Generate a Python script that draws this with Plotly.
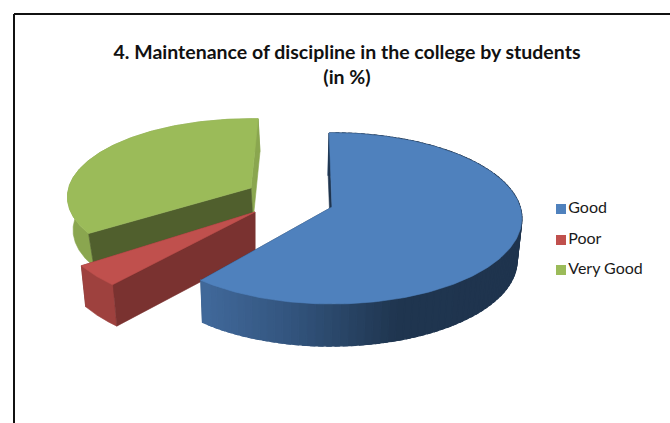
import numpy as np
import plotly.graph_objects as go

# Data
categories = ["Good", "Poor", "Very Good"]
values = [61, 4, 35]
title_text = "4. Maintenance of discipline in the college by students<br>(in %)"

# Styles
top_colors = ["#4f81bd", "#c0504d", "#9bbb59"]
outer_colors = [None, "#9e413e", "#8aa64f"]
cut_colors = ["#1f344e", "#7a3230", "#505f2d"]
back_cut_colors = ["#1f344e", "#7a3230", "#8aa64f"]
apexes = [(332, 207), (255, 212), (251, 188)]
angle_shift = [0, 2, 3.5]
bottom_scale = [0.98, 0.975, 0.98]
bottom_dx = [-1.0, 0, 2]
depths = [42.0, 41.0, 33.0]
radius_x = [0.99, 1.03, 0.96]
radius_y = [1.0, 1.03, 0.92]
perspective = [0.134, 0.134, 0.115]
START = -1.0
A, B = 84.0, 190.0


def project(theta, i, level=0.0):
    t = np.radians(theta)
    u, v = np.sin(t), np.cos(t)
    d = 1 + perspective[i] * v
    scale = bottom_scale[i] if level else 1.0
    x = apexes[i][0] + radius_x[i] * scale * B * u / d + bottom_dx[i] * level
    y = apexes[i][1] - radius_y[i] * A * v / d + depths[i] * level
    return x, y


def poly(fig, xs, ys, color, width=0.6):
    fig.add_trace(go.Scatter(x=list(xs), y=list(ys), mode="lines", fill="toself",
                             fillcolor=color, line=dict(color=color, width=width),
                             hoverinfo="skip", showlegend=False))


def blue_side(x):
    stops_x = [203, 290, 350, 400, 520]
    stops = np.array([[66, 106, 156], [52, 86, 128], [41, 69, 102], [32, 54, 80], [31, 52, 78]])
    return "rgb({},{},{})".format(*[int(np.interp(x, stops_x, stops[:, j])) for j in range(3)])


fig = go.Figure()

spans = np.array(values) / sum(values) * 360
starts = START + np.concatenate([[0], np.cumsum(spans)[:-1]])

for i in [2, 1, 0]:  # painter's order: back to front
    a0 = starts[i] + angle_shift[i]
    a1 = a0 + spans[i]
    ap = apexes[i]
    th = np.linspace(a0, a1, 200)
    tx, ty = project(th, i)
    bx, by = project(th, i, 1.0)
    bax, bay = ap[0] + bottom_dx[i], ap[1] + depths[i]

    def radial(ang, col):
        rx0, ry0 = project(ang, i)
        rx1, ry1 = project(ang, i, 1.0)
        poly(fig, [ap[0], rx0, rx1, bax, ap[0]], [ap[1], ry0, ry1, bay, ap[1]], col)

    radial(a1, back_cut_colors[i])
    if i == 0:
        for k in range(0, len(th) - 3, 2):
            # segments overlap so no seams show between them
            xs = [tx[k], tx[k + 3], bx[k + 3], bx[k], tx[k]]
            ys = [ty[k], ty[k + 3], by[k + 3], by[k], ty[k]]
            poly(fig, xs, ys, blue_side(tx[k]), width=1.4)
        radial(a0, cut_colors[i])
    else:
        poly(fig, np.r_[tx, bx[::-1], tx[0]], np.r_[ty, by[::-1], ty[0]], outer_colors[i])
        radial(a0, cut_colors[i])
    poly(fig, np.r_[ap[0], tx, ap[0]], np.r_[ap[1], ty, ap[1]], top_colors[i])

# Legend drawn as labelled squares
fig.add_trace(go.Scatter(
    x=[561] * 3, y=[209, 240, 270], mode="markers+text",
    text=categories, textposition="middle right",
    marker=dict(symbol="square", size=10, color=top_colors, line=dict(width=0)),
    textfont=dict(family="Lato, Carlito, sans-serif", size=16, color="#1a1a1a"),
    hoverinfo="skip", showlegend=False, cliponaxis=False))

fig.update_layout(
    width=670, height=423,
    margin=dict(l=0, r=0, t=0, b=0),
    paper_bgcolor="white", plot_bgcolor="white",
    showlegend=False,
    title=dict(text=title_text, x=347 / 670, xanchor="center", y=1 - 59 / 423, yanchor="middle",
               font=dict(family="Lato, Carlito, sans-serif", size=19.5, color="#111111", weight="bold")),
    xaxis=dict(range=[0, 670], visible=False, fixedrange=True),
    yaxis=dict(range=[423, 0], visible=False, fixedrange=True),
    shapes=[
        dict(type="line", xref="x", yref="y", x0=14, x1=14, y0=14, y1=423, line=dict(color="#111111", width=2)),
        dict(type="line", xref="x", yref="y", x0=14, x1=670, y0=14, y1=14, line=dict(color="#111111", width=2)),
    ],
)

fig.write_html("out.html", config={"displayModeBar": False},
               post_script="document.body.style.margin='0';document.body.style.overflow='hidden';")
